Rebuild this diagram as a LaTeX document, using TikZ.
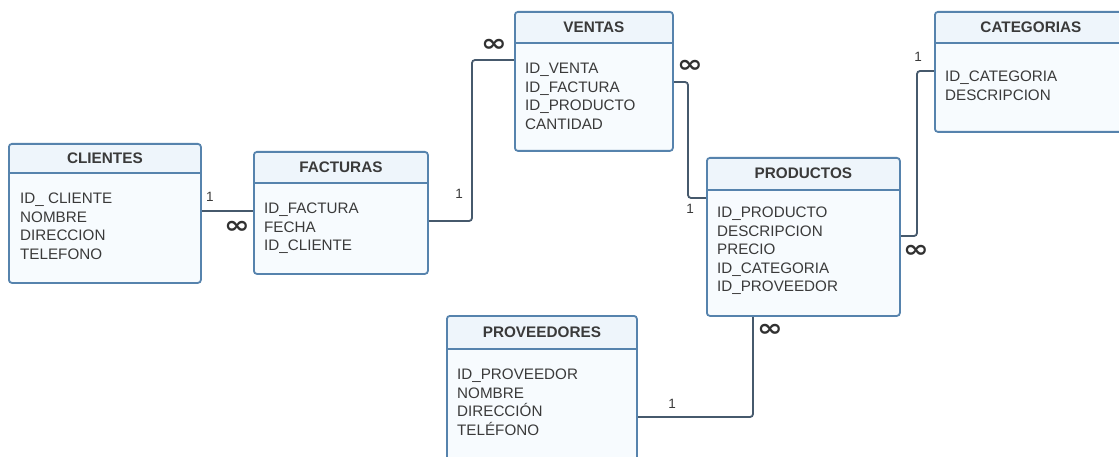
\documentclass[tikz,border=0pt]{standalone}
\usepackage{fontspec}
\setmainfont{Liberation Sans}
\newfontfamily\djv{DejaVu Sans}
\definecolor{bordc}{HTML}{5683AD}
\definecolor{hdrc}{HTML}{EEF5FB}
\definecolor{bodyc}{HTML}{F7FBFE}
\definecolor{connc}{HTML}{46596C}
\definecolor{txtc}{HTML}{3A3A3A}
\newcommand\infsym{\scalebox{1.4}[1.1]{\djv\bfseries ∞}}
\tikzset{
  tbl/.style={draw=bordc, line width=1.8pt, rounded corners=3pt, fill=bodyc,
    anchor=north west, inner sep=0pt,
    path picture={\fill[hdrc] (path picture bounding box.north west) rectangle ([yshift=-#1]path picture bounding box.north east);}},
  hdr/.style={font=\bfseries\fontsize{15.3}{17}\selectfont, text=txtc, inner sep=0pt},
  fld/.style={font=\fontsize{15.2}{18}\selectfont, text=txtc, inner sep=0pt, anchor=west, text height=10.9pt, text depth=0pt},
  conn/.style={draw=connc, line width=1.8pt, rounded corners=3pt},
  cardone/.style={font=\fontsize{13.5}{15}\selectfont, text=txtc, inner sep=0pt},
  cardmany/.style={font=\fontsize{22}{22}\selectfont, text=txtc!85!black, inner sep=0pt},
}
\newcommand\mktable[7]{% name, x, y, w, h, hh, title
  \node[tbl=#6pt, minimum width=#4pt, minimum height=#5pt] (#1) at (#2,#3) {};
  \draw[bordc, line width=1.8pt] ([yshift=-#6pt]#1.north west) -- ([yshift=-#6pt]#1.north east);
  \node[hdr] (#1-h) at ([yshift=-#6pt/2]#1.north) {#7};
}
\newcommand\mkfields[4]{% name, x, first y, list
  \foreach \t [count=\i from 0] in {#4} \node[fld] (#1-f\i) at (#2, #3+18.6*\i) {\t};
}
\begin{document}
\begin{tikzpicture}[x=1pt,y=-1pt]
\useasboundingbox (0,0) rectangle (1119,457);
\clip (0,0) rectangle (1119,457);
\fill[white] (0,0) rectangle (1119,457);

% connectors
\draw[conn] (200,211) -- (253,211);
\draw[conn] (427,221) -- (472,221) -- (472,60) -- (514,60);
\draw[conn] (672,82) -- (688,82) -- (688,198) -- (706,198);
\draw[conn] (899,236) -- (917,236) -- (917,71) -- (934,71);
\draw[conn] (636,417) -- (753,417) -- (753,315);

% tables
\mktable{cli}{8}{143}{192}{139}{30}{CLIENTES}
\mkfields{cli}{20}{198}{ID\_ CLIENTE,NOMBRE,DIRECCION,TELEFONO}
\mktable{fac}{253}{151}{174}{122}{32}{FACTURAS}
\mkfields{fac}{264}{208}{ID\_FACTURA,FECHA,ID\_CLIENTE}
\mktable{ven}{514}{11}{158}{139}{32}{VENTAS}
\mkfields{ven}{525}{68}{ID\_VENTA,ID\_FACTURA,ID\_PRODUCTO,CANTIDAD}
\mktable{pro}{706}{157}{193}{158}{33}{PRODUCTOS}
\mkfields{pro}{717}{212}{ID\_PRODUCTO,DESCRIPCION,PRECIO,ID\_CATEGORIA,ID\_PROVEEDOR}
\mktable{cat}{934}{11}{192}{120}{32}{CATEGORIAS}
\mkfields{cat}{945}{76}{ID\_CATEGORIA,DESCRIPCION}
\mktable{prv}{446}{315}{190}{152}{34}{PROVEEDORES}
\mkfields{prv}{457}{374}{ID\_PROVEEDOR,NOMBRE,DIRECCIÓN,TELÉFONO}

% cardinality labels
\node[cardone] (l1) at (210,197) {1};
\node[cardmany] (m1) at (237,227) {\infsym};
\node[cardmany] (m2) at (494,45.5) {\infsym};
\node[cardone] (l2) at (459,194) {1};
\node[cardmany] (m3) at (690,66) {\infsym};
\node[cardone] (l3) at (690,209) {1};
\node[cardone] (l4) at (918,57) {1};
\node[cardmany] (m4) at (916,251) {\infsym};
\node[cardone] (l5) at (672,404) {1};
\node[cardmany] (m5) at (770,330) {\infsym};
\end{tikzpicture}
\end{document}
